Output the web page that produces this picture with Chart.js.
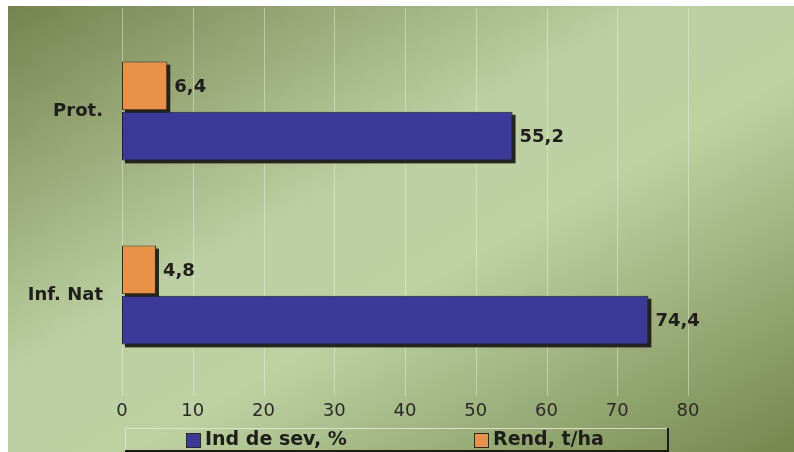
<!DOCTYPE html>
<html>
<head>
<meta charset="utf-8">
<script src="https://cdn.jsdelivr.net/npm/chart.js@4/dist/chart.umd.min.js"></script>
<style>
  body { margin: 0; background: #fff; }
  #wrap { width: 794px; height: 452px; }
</style>
</head>
<body>
<div id="wrap"><canvas id="barChart" width="794" height="452"></canvas></div>
<script>
// DATA
let categories = ['Prot.', 'Inf. Nat'];
let sevLabel = 'Ind de sev, %';
let rendLabel = 'Rend, t/ha';
let sevValues = [55.2, 74.4];
let rendValues = [6.4, 4.8];
let xMin = 0, xMax = 80, xStep = 10;

let sevColor = '#3b3a98';
let rendColor = '#e8914a';

function fmt(v) {
    return String(v).replace('.', ',');
}

// background: dark olive corners top-left / bottom-right, light green across the middle
let bgPlugin = {
    id: 'bg',
    beforeDraw(chart) {
        let ctx = chart.ctx;
        let g = ctx.createLinearGradient(203, -115, 591, 567);
        g.addColorStop(0, '#74814c');
        g.addColorStop(0.42, '#bccfa2');
        g.addColorStop(0.58, '#bdd1a3');
        g.addColorStop(1, '#75874c');
        ctx.save();
        ctx.fillStyle = '#ffffff';
        ctx.fillRect(0, 0, chart.width, chart.height);
        ctx.fillStyle = g;
        ctx.fillRect(8, 6, chart.width - 8, chart.height - 6);
        ctx.restore();
    }
};

// faint vertical grid lines running the full height, then bar shadows
let gridShadowPlugin = {
    id: 'gridShadow',
    beforeDatasetsDraw(chart) {
        let ctx = chart.ctx;
        let xs = chart.scales.x;
        ctx.save();
        ctx.strokeStyle = 'rgba(240,245,225,0.45)';
        ctx.lineWidth = 1;
        xs.ticks.forEach(t => {
            let px = Math.round(xs.getPixelForValue(t.value)) + 0.5;
            ctx.beginPath();
            ctx.moveTo(px, 8);
            ctx.lineTo(px, 396);
            ctx.stroke();
        });
        ctx.fillStyle = 'rgba(28,28,22,0.95)';
        chart.data.datasets.forEach((ds, di) => {
            chart.getDatasetMeta(di).data.forEach(bar => {
                let p = bar.getProps(['x', 'y', 'base', 'height']);
                ctx.fillRect(p.base + 3, p.y - p.height / 2 + 3, p.x - p.base, p.height);
            });
        });
        ctx.restore();
    }
};

// value labels at bar ends
let valuePlugin = {
    id: 'values',
    afterDatasetsDraw(chart) {
        let ctx = chart.ctx;
        ctx.save();
        ctx.font = 'bold 18px "DejaVu Sans"';
        ctx.fillStyle = '#1e1e1a';
        ctx.textAlign = 'left';
        ctx.textBaseline = 'middle';
        chart.data.datasets.forEach((ds, di) => {
            chart.getDatasetMeta(di).data.forEach((bar, i) => {
                ctx.fillText(fmt(ds.data[i]), bar.x + 7, bar.y + 1);
            });
        });
        ctx.restore();
    }
};

// boxed legend under the axis
let legendPlugin = {
    id: 'boxLegend',
    afterDraw(chart) {
        let ctx = chart.ctx;
        let left = 125, right = 668, top = 428, bottom = 451;
        ctx.save();
        ctx.strokeStyle = 'rgba(225,228,205,0.9)';
        ctx.lineWidth = 1;
        ctx.beginPath();
        ctx.moveTo(left + 0.5, bottom);
        ctx.lineTo(left + 0.5, top + 0.5);
        ctx.lineTo(right, top + 0.5);
        ctx.stroke();
        ctx.strokeStyle = '#1c1c18';
        ctx.lineWidth = 2;
        ctx.beginPath();
        ctx.moveTo(right, top);
        ctx.lineTo(right, bottom);
        ctx.lineTo(left, bottom);
        ctx.stroke();

        let items = [
            { text: sevLabel, color: sevColor, x: 186 },
            { text: rendLabel, color: rendColor, x: 474 }
        ];
        ctx.font = 'bold 19px "DejaVu Sans"';
        ctx.textBaseline = 'middle';
        ctx.textAlign = 'left';
        items.forEach(it => {
            ctx.fillStyle = it.color;
            ctx.fillRect(it.x, 433, 14, 14);
            ctx.strokeStyle = '#2a2a2a';
            ctx.lineWidth = 1;
            ctx.strokeRect(it.x + 0.5, 433.5, 14, 14);
            ctx.fillStyle = '#1e1e1a';
            ctx.fillText(it.text, it.x + 19, 440);
        });
        ctx.restore();
    }
};

let barChartCtx = document.getElementById('barChart').getContext('2d');
let barChart = new Chart(barChartCtx, {
    type: 'bar',
    data: {
        labels: categories,
        datasets: [{
            label: rendLabel,
            data: rendValues,
            backgroundColor: rendColor,
            borderColor: '#3a2a1a',
            borderWidth: 1,
            borderSkipped: false
        }, {
            label: sevLabel,
            data: sevValues,
            backgroundColor: sevColor,
            borderColor: '#1e1e3a',
            borderWidth: 1,
            borderSkipped: false
        }]
    },
    options: {
        indexAxis: 'y',
        responsive: false,
        animation: false,
        categoryPercentage: 0.545,
        barPercentage: 0.97,
        layout: { padding: { top: 19, right: 106, bottom: 30, left: 0 } },
        plugins: {
            legend: { display: false },
            tooltip: { enabled: false }
        },
        scales: {
            x: {
                min: xMin,
                max: xMax,
                ticks: {
                    stepSize: xStep,
                    padding: 14,
                    color: '#2a2a26',
                    font: { family: 'DejaVu Sans', size: 18 }
                },
                grid: { display: false, drawTicks: false },
                border: { display: false },
                afterFit(scale) {
                    scale.height = 35;
                    scale.paddingLeft = 0;
                    scale.paddingRight = 0;
                }
            },
            y: {
                ticks: {
                    padding: 19,
                    color: '#1e1e1a',
                    font: { family: 'DejaVu Sans', size: 18, weight: 'bold' }
                },
                grid: { display: false, drawTicks: false },
                border: { display: false },
                afterFit(scale) {
                    scale.width = 122;
                    scale.paddingTop = 0;
                    scale.paddingBottom = 0;
                }
            }
        }
    },
    plugins: [bgPlugin, gridShadowPlugin, valuePlugin, legendPlugin]
});
</script>
</body>
</html>
